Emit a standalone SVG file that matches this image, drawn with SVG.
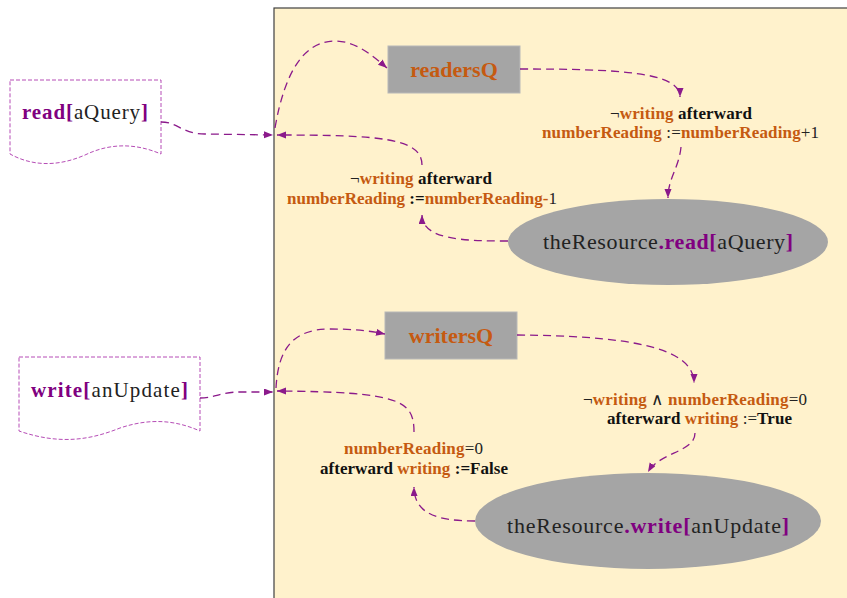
<svg xmlns="http://www.w3.org/2000/svg" width="847" height="598" viewBox="0 0 847 598">
<defs>
<style>
text{font-family:"Liberation Serif","Times New Roman",serif;}
.lbl{font-size:17px;text-anchor:middle;}
.o{fill:#C55A11;font-weight:bold;}
.k{fill:#111;font-weight:bold;}
.n{fill:#222;font-weight:normal;}
.p{fill:#800080;font-weight:bold;}
.conn{fill:none;stroke:#8B1A8B;stroke-width:1.3;stroke-dasharray:8,5;marker-end:url(#ah);}
.doc{fill:#fff;stroke:#B64DB6;stroke-width:1;stroke-dasharray:4,2;}
.box{fill:#A5A5A5;stroke:#B8B8B8;stroke-width:1;}
.ell{fill:#A5A5A5;}
</style>
<marker id="ah" markerUnits="userSpaceOnUse" markerWidth="10" markerHeight="8" refX="9" refY="3.5" orient="auto">
<path d="M0,0 L9,3.5 L0,7 z" fill="#8B1A8B"/>
</marker>
</defs>
<rect width="847" height="598" fill="#fff"/>
<rect id="panel" x="274" y="8" width="590" height="600" fill="#FFF2CC" stroke="#404040" stroke-width="1.2"/>

<g id="readDoc">
<path class="doc" d="M10,80 H161 V154 C135,143 110,143 85,155 C55,168 30,165 10,154 Z"/>
<text x="22" y="119" font-size="21" textLength="126" lengthAdjust="spacing"><tspan class="p">read[</tspan><tspan class="n">aQuery</tspan><tspan class="p">]</tspan></text>
</g>

<g id="writeDoc">
<path class="doc" d="M19,357 H200 V431 C175,420 150,418 120,428 C90,440 60,445 19,431 Z"/>
<text x="31" y="397" font-size="21" textLength="157" lengthAdjust="spacing"><tspan class="p">write[</tspan><tspan class="n">anUpdate</tspan><tspan class="p">]</tspan></text>
</g>

<g id="readersQ">
<rect class="box" x="388" y="46" width="132" height="47"/>
<text x="454" y="77" font-size="22" text-anchor="middle" class="o">readersQ</text>
</g>

<g id="writersQ">
<rect class="box" x="385" y="312" width="132" height="47"/>
<text x="451" y="343" font-size="22" text-anchor="middle" class="o">writersQ</text>
</g>

<g id="readRes">
<ellipse class="ell" cx="668" cy="242" rx="160" ry="43"/>
<text x="668" y="249" font-size="22" text-anchor="middle" textLength="250" lengthAdjust="spacing"><tspan class="n">theResource</tspan><tspan class="p">.read[</tspan><tspan class="n">aQuery</tspan><tspan class="p">]</tspan></text>
</g>

<g id="writeRes">
<ellipse class="ell" cx="648" cy="521" rx="173" ry="48"/>
<text x="648" y="533" font-size="22" text-anchor="middle" textLength="282" lengthAdjust="spacing"><tspan class="n">theResource</tspan><tspan class="p">.write[</tspan><tspan class="n">anUpdate</tspan><tspan class="p">]</tspan></text>
</g>

<g id="labelA">
<text class="lbl" x="681" y="119" textLength="142" lengthAdjust="spacing"><tspan class="n">¬</tspan><tspan class="o">writing</tspan><tspan class="k"> afterward</tspan></text>
<text class="lbl" x="680.5" y="138" textLength="277" lengthAdjust="spacing"><tspan class="o">numberReading</tspan><tspan class="n"> :=</tspan><tspan class="o">numberReading</tspan><tspan class="n">+1</tspan></text>
</g>

<g id="labelB">
<text class="lbl" x="421" y="184" textLength="142" lengthAdjust="spacing"><tspan class="n">¬</tspan><tspan class="o">writing</tspan><tspan class="k"> afterward</tspan></text>
<text class="lbl" x="422" y="204" textLength="270" lengthAdjust="spacing"><tspan class="o">numberReading</tspan><tspan class="k"> :=</tspan><tspan class="o">numberReading-</tspan><tspan class="n">1</tspan></text>
</g>

<g id="labelC">
<text class="lbl" x="695" y="405" textLength="224" lengthAdjust="spacing"><tspan class="n">¬</tspan><tspan class="o">writing</tspan><tspan class="n"> ∧ </tspan><tspan class="o">numberReading</tspan><tspan class="n">=0</tspan></text>
<text class="lbl" x="699.5" y="424" textLength="185" lengthAdjust="spacing"><tspan class="k">afterward </tspan><tspan class="o">writing</tspan><tspan class="n"> :=</tspan><tspan class="k">True</tspan></text>
</g>

<g id="labelD">
<text class="lbl" x="413.5" y="454" textLength="139" lengthAdjust="spacing"><tspan class="o">numberReading</tspan><tspan class="n">=0</tspan></text>
<text class="lbl" x="414" y="474" textLength="188" lengthAdjust="spacing"><tspan class="k">afterward </tspan><tspan class="o">writing</tspan><tspan class="k"> :=False</tspan></text>
</g>

<g id="connectors">
<path class="conn" d="M161,122 C178,122 182,134 205,134 L273,135"/>
<path class="conn" d="M275,128 C285,70 305,41 335,41 C355,41 372,55 387,68"/>
<path class="conn" d="M520,69 C620,69 680,72 680,97"/>
<path class="conn" d="M681,147 C679,168 668,178 668,198"/>
<path class="conn" d="M508,241 C465,241 422,240 422,215"/>
<path class="conn" d="M422,165 C422,138 380,135 277,135"/>
<path class="conn" d="M200,398 C215,398 220,392 240,392 L273,392"/>
<path class="conn" d="M276,388 C278,350 292,329 330,329 C355,329 370,331 385,334"/>
<path class="conn" d="M517,335 C620,336 694,345 694,383"/>
<path class="conn" d="M695,433 C695,452 660,452 648,472"/>
<path class="conn" d="M475,521 C440,521 414,515 414,487"/>
<path class="conn" d="M414,432 C414,400 400,392 277,391"/>
</g>
</svg>
